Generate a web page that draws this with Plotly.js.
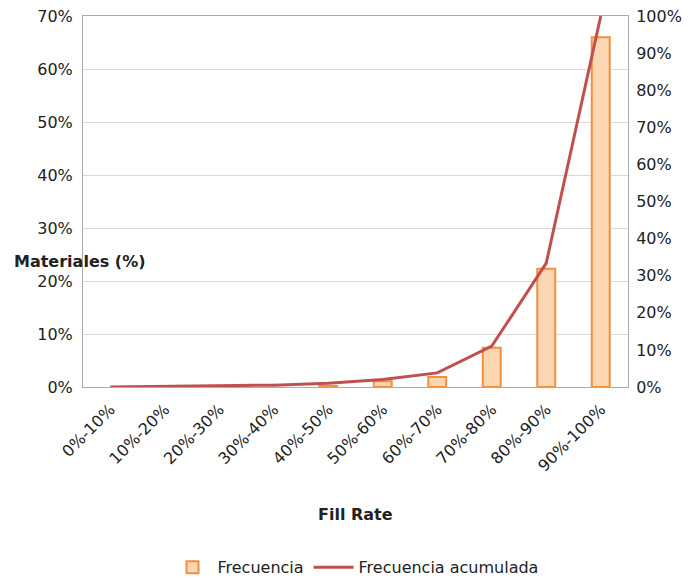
<!DOCTYPE html>
<html><head><meta charset="utf-8">
<script src="https://cdn.plot.ly/plotly-3.0.1.min.js"></script>
<style>body{margin:0;background:#fff}#c{width:691px;height:580px}</style>
</head><body><div id="c"></div>
<script>
var categories = ["0%-10%","10%-20%","20%-30%","30%-40%","40%-50%","50%-60%","60%-70%","70%-80%","80%-90%","90%-100%"];
var frecuencia = [null, null, null, null, 0.2, 1.1, 1.9, 7.4, 22.3, 66];
var acumulada = [0, 0.1, 0.2, 0.5, 1.0, 2.0, 3.8, 11.0, 33.4, 100];
var leftTicks = [0,10,20,30,40,50,60,70];
var rightTicks = [0,10,20,30,40,50,60,70,80,90,100];
var font = {family:"DejaVu Sans, Verdana, sans-serif", size:16, color:"#222"};
var traces = [
 {type:"bar", x:categories, y:frecuencia, name:"Frecuencia",
  marker:{color:"#FBD6B2", line:{color:"#F0913F", width:2}}, yaxis:"y"},
 {type:"scatter", mode:"lines", x:categories, y:acumulada, name:"Frecuencia acumulada",
  line:{color:"#C0504D", width:3}, yaxis:"y2", cliponaxis:true}
];
var layout = {
 width:691, height:580, paper_bgcolor:"#fff", plot_bgcolor:"#fff",
 margin:{l:83, r:63, t:16, b:193, autoexpand:false},
 font:font, bargap:0.67, showlegend:true,
 legend:{orientation:"h", x:0.5, xanchor:"center", yref:"container", y:0.022, yanchor:"middle", font:font,
   traceorder:"normal", itemwidth:40},
 xaxis:{tickangle:-45, showgrid:false, showline:true, linecolor:"#aaa", mirror:true, ticks:"", automargin:false,
   tickfont:font, ticklabelstandoff:6},
 yaxis:{range:[0,70], tickvals:leftTicks, ticktext:leftTicks.map(function(v){return v+"%";}), showgrid:true, gridcolor:"#d9d9d9",
   showline:true, linecolor:"#aaa", zeroline:false, tickfont:font, ticks:"", ticklabelstandoff:6, automargin:false},
 yaxis2:{range:[0,100], overlaying:"y", side:"right", tickvals:rightTicks, ticktext:rightTicks.map(function(v){return v+"%";}),
   showgrid:false, showline:true, linecolor:"#aaa", zeroline:false, tickfont:font, ticks:"", ticklabelstandoff:4, automargin:false},
 annotations:[
  {text:"<b>Materiales (%)</b>", xref:"paper", yref:"paper", x:-0.13, y:0.337, xanchor:"left", yanchor:"middle", showarrow:false, font:font},
  {text:"<b>Fill Rate</b>", xref:"paper", yref:"paper", x:0.5, y:-0.343, xanchor:"center", yanchor:"middle", showarrow:false, font:font}
 ]
};
Plotly.newPlot("c", traces, layout, {displayModeBar:false, staticPlot:true});
</script></body></html>
